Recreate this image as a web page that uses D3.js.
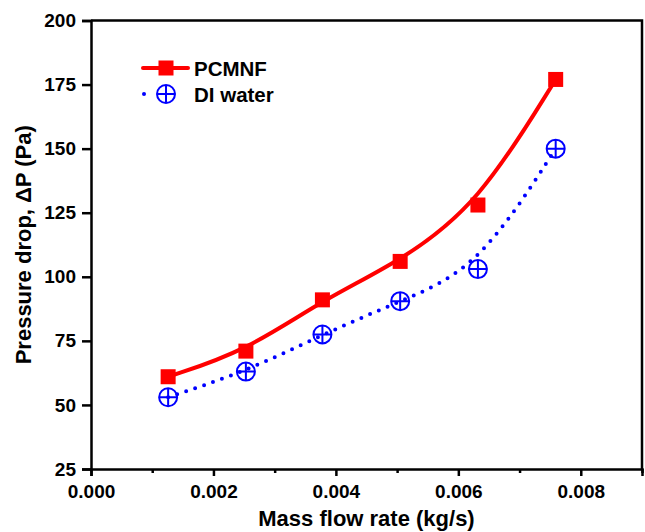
<!DOCTYPE html>
<html>
<head>
<meta charset="utf-8">
<script src="https://cdn.jsdelivr.net/npm/d3@7"></script>
<style>
  html, body { margin: 0; padding: 0; background: #fff; }
  svg { display: block; font-family: "Liberation Sans", Arial, sans-serif; font-weight: bold; }
</style>
</head>
<body>
<svg id="chart" width="645" height="532"></svg>
<script>
// Mass flow rate (kg/s)
const flowRate = [0.00126, 0.00253, 0.00378, 0.00505, 0.00632, 0.00759];
// Pressure drop (Pa)
const pcmnf = [61, 71, 91, 106, 128, 177];
const diWater = [53, 63, 77.5, 90.5, 103, 150];

const xTicks = [0, 0.002, 0.004, 0.006, 0.008];
const xMinorTicks = [0.001, 0.003, 0.005, 0.007, 0.009];
const yTicks = [25, 50, 75, 100, 125, 150, 175, 200];

const seriesNames = ["PCMNF", "DI water"];

const svg = d3.select("#chart");
const plotLeft = 91, plotRight = 642, plotTop = 20.5, plotBottom = 469;

const x = d3.scaleLinear().domain([0, 0.009]).range([plotLeft, plotRight]);
const y = d3.scaleLinear().domain([25, 200]).range([plotBottom, plotTop]);

// Frame (top and right edges)
svg.append("path")
  .attr("d", `M${plotLeft},${plotTop}H${plotRight}V${plotBottom}`)
  .attr("fill", "none").attr("stroke", "#000").attr("stroke-width", 2.5);

// X axis
svg.append("g").attr("transform", `translate(0,${plotBottom})`)
  .call(d3.axisBottom(x).tickValues(xTicks).tickFormat(d3.format(".3f")).tickSize(7).tickPadding(9));
svg.append("g").attr("transform", `translate(0,${plotBottom})`)
  .call(d3.axisBottom(x).tickValues(xMinorTicks).tickFormat("").tickSize(4))
  .call(g => g.select(".domain").remove());

// Y axis
svg.append("g").attr("transform", `translate(${plotLeft},0)`)
  .call(d3.axisLeft(y).tickValues(yTicks).tickSize(9).tickPadding(6));

svg.selectAll(".tick line").attr("stroke-width", 2.5).attr("stroke", "#000");
svg.selectAll(".domain").attr("stroke-width", 2.5).attr("stroke", "#000");
svg.selectAll(".tick text").attr("font-size", 19).attr("font-weight", "bold")
  .attr("font-family", "'Liberation Sans', Arial, sans-serif").attr("fill", "#000");

// Axis titles
svg.append("text")
  .attr("x", (plotLeft + plotRight) / 2).attr("y", 526)
  .attr("text-anchor", "middle").attr("font-size", 22).attr("fill", "#000")
  .text("Mass flow rate (kg/s)");
svg.append("text")
  .attr("transform", `translate(31,${(plotTop + plotBottom) / 2}) rotate(-90)`)
  .attr("text-anchor", "middle").attr("font-size", 22).attr("fill", "#000")
  .text("Pressure drop, ΔP (Pa)");

const line = d3.line().curve(d3.curveBasis).x(d => x(d[0])).y(d => y(d[1]));
const redPts = flowRate.map((f, i) => [f, pcmnf[i]]);
const bluePts = flowRate.map((f, i) => [f, diWater[i]]);

// DI water: dotted smooth curve
svg.append("path").datum(bluePts).attr("d", line)
  .attr("fill", "none").attr("stroke", "#0000ff").attr("stroke-width", 4)
  .attr("stroke-linecap", "round").attr("stroke-dasharray", "0 9.5");

// PCMNF: solid smooth curve
svg.append("path").datum(redPts).attr("d", line)
  .attr("fill", "none").attr("stroke", "#ff0000").attr("stroke-width", 4);

function crossCircle(g, cx, cy) {
  const r = 9;
  g.append("circle").attr("cx", cx).attr("cy", cy).attr("r", r)
    .attr("fill", "none").attr("stroke", "#0000ff").attr("stroke-width", 2);
  g.append("path").attr("d", `M${cx - r},${cy}H${cx + r}M${cx},${cy - r}V${cy + r}`)
    .attr("stroke", "#0000ff").attr("stroke-width", 2);
}
function square(g, cx, cy) {
  g.append("rect").attr("x", cx - 7.5).attr("y", cy - 7.5).attr("width", 15).attr("height", 15)
    .attr("fill", "#ff0000");
}

const markers = svg.append("g");
bluePts.forEach(d => crossCircle(markers, x(d[0]), y(d[1])));
redPts.forEach(d => square(markers, x(d[0]), y(d[1])));

// Legend
const legend = svg.append("g");
legend.append("line").attr("x1", 143).attr("x2", 188).attr("y1", 68).attr("y2", 68)
  .attr("stroke", "#ff0000").attr("stroke-width", 4).attr("stroke-linecap", "round");
square(legend, 166, 68);
legend.append("text").attr("x", 194).attr("y", 75.5).attr("font-size", 20.5).attr("fill", "#000")
  .text(seriesNames[0]);

legend.append("line").attr("x1", 144).attr("x2", 188).attr("y1", 94).attr("y2", 94)
  .attr("stroke", "#0000ff").attr("stroke-width", 4).attr("stroke-linecap", "round")
  .attr("stroke-dasharray", "0 44");
crossCircle(legend, 166, 94);
legend.append("text").attr("x", 194).attr("y", 101.5).attr("font-size", 20.5).attr("fill", "#000")
  .text(seriesNames[1]);
</script>
</body>
</html>
